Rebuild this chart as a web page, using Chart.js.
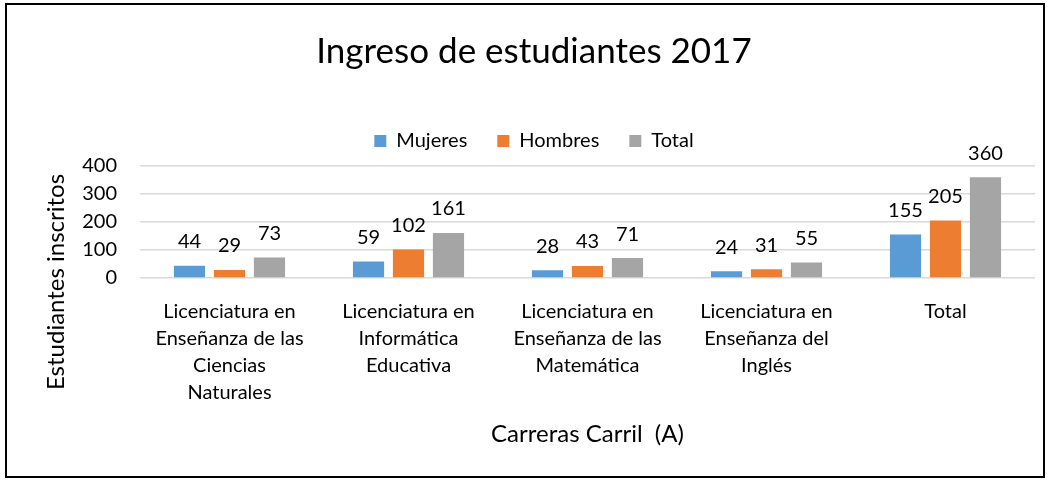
<!DOCTYPE html>
<html>
<head>
<meta charset="utf-8">
<script src="https://cdn.jsdelivr.net/npm/chart.js@4/dist/chart.umd.min.js"></script>
<style>
  html, body { margin: 0; padding: 0; background: #fff; }
  #wrap { position: absolute; left: 5px; top: 3px; width: 1040px; height: 475px; border: 2px solid #000; box-sizing: border-box; }
  canvas { position: absolute; left: 0; top: 0; }
</style>
</head>
<body>
<div id="wrap"><canvas id="chart" width="1036" height="471"></canvas></div>
<script>
/* ---------- DATA ---------- */
const carreras = [
    ["Licenciatura en", "Enseñanza de las", "Ciencias", "Naturales"],
    ["Licenciatura en", "Informática", "Educativa"],
    ["Licenciatura en", "Enseñanza de las", "Matemática"],
    ["Licenciatura en", "Enseñanza del", "Inglés"],
    "Total"
];
const mujeres = [44, 59, 28, 24, 155];
const hombres = [29, 102, 43, 31, 205];
const totales = [73, 161, 71, 55, 360];
const yTicks = [0, 100, 200, 300, 400];

const FONT = "Lato, 'Open Sans', sans-serif";

/* ---------- VALUE LABELS ---------- */
const valueLabels = {
    id: "valueLabels",
    afterDatasetsDraw(chart) {
        const ctx = chart.ctx;
        ctx.save();
        ctx.font = "20px " + FONT;
        ctx.fillStyle = "#000";
        ctx.textAlign = "center";
        ctx.textBaseline = "middle";
        chart.data.datasets.forEach((ds, i) => {
            chart.getDatasetMeta(i).data.forEach((bar, j) => {
                ctx.fillText(ds.data[j], bar.x, bar.y - 24);
            });
        });
        ctx.restore();
    }
};

/* y axis title, placed lower than the scale centre like the original */
const yTitle = {
    id: "yTitle",
    afterDraw(chart) {
        const ctx = chart.ctx;
        ctx.save();
        ctx.translate(49, 277);
        ctx.rotate(-Math.PI / 2);
        ctx.font = "24px " + FONT;
        ctx.fillStyle = "#000";
        ctx.textAlign = "center";
        ctx.textBaseline = "middle";
        ctx.fillText("Estudiantes inscritos", 0, 0);
        ctx.restore();
    }
};

/* push plot area a little under the legend */
const legendGap = {
    id: "legendGap",
    beforeInit(chart) {
        const fit = chart.legend.fit;
        chart.legend.fit = function () {
            fit.bind(this)();
            this.height += 5;
        };
    }
};

new Chart(document.getElementById("chart"), {
    type: "bar",
    data: {
        labels: carreras,
        datasets: [
            { label: "Mujeres", data: mujeres, backgroundColor: "#5B9BD5" },
            { label: "Hombres", data: hombres, backgroundColor: "#ED7D31" },
            { label: "Total", data: totales, backgroundColor: "#A5A5A5" }
        ]
    },
    options: {
        responsive: false,
        animation: false,
        layout: { padding: { left: 26, right: 8, top: 0, bottom: 20 } },
        datasets: { bar: { categoryPercentage: 0.67, barPercentage: 0.78 } },
        plugins: {
            title: {
                display: true,
                text: "Ingreso de estudiantes 2017",
                color: "#000",
                font: { family: FONT, size: 35, weight: "normal" },
                padding: { top: 26, bottom: 28 }
            },
            legend: {
                labels: {
                    color: "#000",
                    font: { family: FONT, size: 20 },
                    boxWidth: 12,
                    boxHeight: 12,
                    padding: 30
                }
            },
            tooltip: { enabled: false }
        },
        scales: {
            x: {
                grid: { display: false },
                border: { display: false },
                ticks: {
                    color: "#000",
                    font: { family: FONT, size: 20, lineHeight: 1.35 },
                    maxRotation: 0,
                    autoSkip: false,
                    padding: 12
                },
                title: {
                    display: true,
                    text: "Carreras Carril  (A)",
                    color: "#000",
                    font: { family: FONT, size: 24 },
                    padding: { top: 7, bottom: 7 }
                },
                afterFit(scale) { scale.height = 178; }
            },
            y: {
                min: 0,
                max: 400,
                afterBuildTicks(scale) { scale.ticks = yTicks.map(v => ({ value: v })); },
                grid: { color: "#D9D9D9", lineWidth: 1.5, drawTicks: false },
                border: { display: false },
                ticks: {
                    color: "#000",
                    font: { family: FONT, size: 20 },
                    autoSkip: false,
                    padding: 23
                },
                afterFit(scale) { scale.width = 107; }
            }
        }
    },
    plugins: [valueLabels, yTitle, legendGap]
});
</script>
</body>
</html>
